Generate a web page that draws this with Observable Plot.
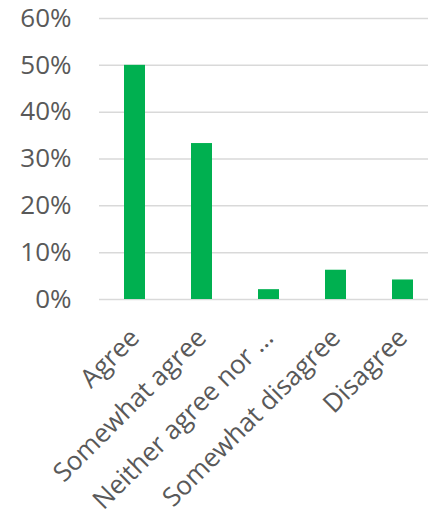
<!DOCTYPE html>
<html>
<head>
<meta charset="utf-8">
<script src="https://cdn.jsdelivr.net/npm/d3@7"></script>
<script src="https://cdn.jsdelivr.net/npm/@observablehq/plot@0.6"></script>
<style>
  html, body { margin: 0; padding: 0; background: #fff; }
</style>
</head>
<body>
<div id="chart"></div>
<script>
// Survey responses: share of respondents per answer
const categories = ["Agree", "Somewhat agree", "Neither agree nor disagree", "Somewhat disagree", "Disagree"];
const tickLabels = ["Agree", "Somewhat agree", "Neither agree nor …", "Somewhat disagree", "Disagree"];
const shares = [0.50, 0.333, 0.021, 0.0625, 0.0417];
const yTicks = [0, 0.1, 0.2, 0.3, 0.4, 0.5, 0.6];

const data = categories.map((category, i) => ({category, share: shares[i]}));

const chart = Plot.plot({
  width: 428,
  height: 524,
  marginLeft: 99,
  marginRight: 0,
  marginTop: 18,
  marginBottom: 225,
  style: {
    fontFamily: "'Open Sans', sans-serif",
    fontSize: "26px",
    color: "#595959",
    background: "#fff",
    overflow: "hidden"
  },
  x: {
    domain: categories,
    range: [99, 437],
    paddingInner: 0.69,
    paddingOuter: 0.345,
    tickSize: 0,
    tickPadding: 34,
    tickRotate: -45,
    tickFormat: d => tickLabels[categories.indexOf(d)],
    label: null
  },
  y: {
    domain: [0, 0.6],
    range: [299, 18],
    ticks: yTicks,
    tickSize: 0,
    tickPadding: 28,
    tickFormat: d => Math.round(d * 100) + "%",
    label: null
  },
  marks: [
    Plot.ruleY(yTicks, {stroke: "#d9d9d9", strokeWidth: 1.5}),
    Plot.barY(data, {x: "category", y: "share", fill: "#00b050"})
  ]
});

document.getElementById("chart").append(chart);
</script>
</body>
</html>
